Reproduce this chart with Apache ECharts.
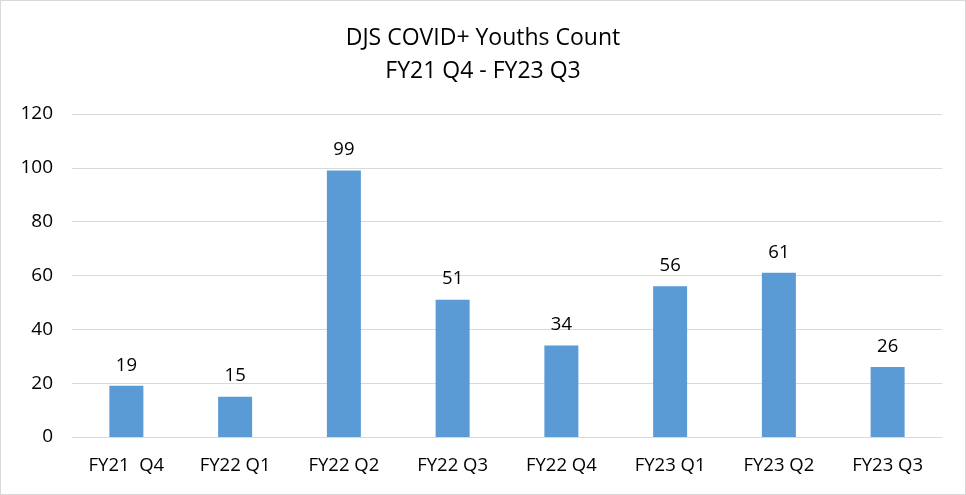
<!DOCTYPE html>
<html><head><meta charset="utf-8">
<script src="https://cdn.jsdelivr.net/npm/echarts@6/dist/echarts.min.js"></script>
<style>html,body{margin:0;padding:0;background:#fff}#c{width:966px;height:495px;box-sizing:border-box;border:1px solid #d9d9d9;}</style>
</head><body><div id="c"></div>
<script>
const categories = ['FY21  Q4','FY22 Q1','FY22 Q2','FY22 Q3','FY22 Q4','FY23 Q1','FY23 Q2','FY23 Q3'];
const counts = [19, 15, 99, 51, 34, 56, 61, 26];
const titleLines = ['DJS COVID+ Youths Count', 'FY21 Q4 - FY23 Q3'];
const font = '"Open Sans", "Liberation Sans", sans-serif';
const chart = echarts.init(document.getElementById('c'), null, {renderer:'canvas'});
chart.setOption({
  animation:false,
  title:{text:titleLines.join('\n'), left:'center', top:16, textStyle:{fontFamily:font, fontSize:23, fontWeight:'normal', color:'#000', lineHeight:33}},
  grid:{left:71, right:23, top:113, bottom:57},
  xAxis:{type:'category', data:categories, axisLine:{lineStyle:{color:'#d9d9d9', width:1}}, axisTick:{show:false},
    axisLabel:{fontFamily:font, fontSize:18.5, color:'#000', margin:19}},
  yAxis:{type:'value', min:0, max:120, interval:20, axisLine:{show:false}, axisTick:{show:false},
    splitLine:{lineStyle:{color:'#d9d9d9', width:1}},
    axisLabel:{fontFamily:font, fontSize:19, color:'#000', margin:19}},
  series:[{type:'bar', data:counts, barWidth:34, itemStyle:{color:'#5b9bd5'},
    label:{show:true, position:'top', distance:11, fontFamily:font, fontSize:18.5, color:'#000'}}]
});
</script></body></html>
